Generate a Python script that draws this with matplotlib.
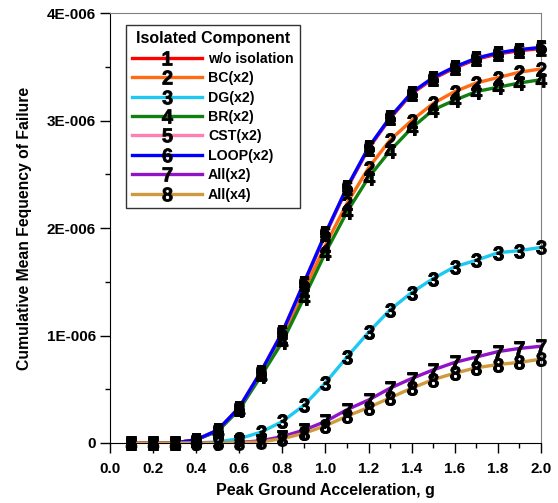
import matplotlib
matplotlib.use("Agg")
import matplotlib.pyplot as plt
from matplotlib.ticker import MultipleLocator, FuncFormatter

plt.rcParams['font.family'] = ['Liberation Sans', 'DejaVu Sans']
plt.rcParams['mathtext.fontset'] = 'custom'
plt.rcParams['mathtext.rm'] = 'Liberation Sans'
plt.rcParams['mathtext.bf'] = 'Liberation Sans:bold'

pga = [0.1, 0.2, 0.3, 0.4, 0.5, 0.6, 0.7, 0.8, 0.9, 1.0,
       1.1, 1.2, 1.3, 1.4, 1.5, 1.6, 1.7, 1.8, 1.9, 2.0]

# values in units of 1E-006
loop = [0.0, 0.0, 0.0, 0.03, 0.12, 0.33, 0.66, 1.03, 1.49, 1.95,
        2.38, 2.75, 3.03, 3.26, 3.40, 3.50, 3.58, 3.63, 3.66, 3.68]
wo_iso = [0.0, 0.0, 0.0, 0.03, 0.12, 0.33, 0.66, 1.03, 1.48, 1.94,
          2.37, 2.74, 3.02, 3.25, 3.39, 3.49, 3.57, 3.62, 3.65, 3.67]
bc = [0.0, 0.0, 0.0, 0.03, 0.11, 0.32, 0.64, 0.99, 1.42, 1.84,
      2.23, 2.56, 2.82, 3.00, 3.16, 3.27, 3.35, 3.40, 3.45, 3.48]
dg = [0.0, 0.0, 0.0, 0.0, 0.01, 0.04, 0.10, 0.20, 0.35, 0.56,
      0.80, 1.03, 1.24, 1.40, 1.53, 1.64, 1.70, 1.77, 1.79, 1.82]
br = [0.0, 0.0, 0.0, 0.03, 0.11, 0.31, 0.62, 0.94, 1.35, 1.77,
      2.15, 2.47, 2.72, 2.93, 3.10, 3.19, 3.27, 3.31, 3.35, 3.38]
cst = [0.0, 0.0, 0.0, 0.03, 0.12, 0.33, 0.66, 1.03, 1.49, 1.95,
       2.38, 2.75, 3.03, 3.26, 3.40, 3.50, 3.58, 3.63, 3.66, 3.68]
all2 = [0.0, 0.0, 0.0, 0.0, 0.0, 0.005, 0.02, 0.06, 0.12, 0.20,
        0.31, 0.40, 0.51, 0.60, 0.68, 0.75, 0.80, 0.85, 0.88, 0.90]
all4 = [0.0, 0.0, 0.0, 0.0, 0.0, 0.004, 0.01, 0.04, 0.09, 0.16,
        0.25, 0.33, 0.42, 0.51, 0.59, 0.65, 0.70, 0.73, 0.75, 0.78]

series = [wo_iso, bc, dg, br, cst, loop, all2, all4]
labels = ['w/o isolation', 'BC(x2)', 'DG(x2)', 'BR(x2)', 'CST(x2)',
          'LOOP(x2)', 'All(x2)', 'All(x4)']
colors = ['#ff0000', '#ff6a13', '#1ec8f0', '#118011', '#ff7fb0',
          '#0000ff', '#9013c8', '#cf9a3e']

fig = plt.figure(figsize=(5.58, 5.03), dpi=100)
ax = fig.add_axes([0.197, 0.1193, 0.7725, 0.8547])

mk = dict(markersize=10, markerfacecolor='black', markeredgecolor='black',
          markeredgewidth=0.6)
for i, (vals, lab, c) in enumerate(zip(series, labels, colors)):
    y = [v * 1e-6 for v in vals]
    m = r'$\mathbf{%d}$' % (i + 1)
    ax.plot(pga, y, color=c, lw=2.4, marker=m, label=lab, zorder=2 + i, **mk)
    ax.plot(pga, y, linestyle='none', marker=m, zorder=20 + i,
            clip_on=False, **mk)

ax.set_xlim(0, 2.0)
ax.set_ylim(0, 4e-6)
ax.xaxis.set_major_locator(MultipleLocator(0.2))
ax.xaxis.set_minor_locator(MultipleLocator(0.1))
ax.yaxis.set_major_locator(MultipleLocator(1e-6))
ax.yaxis.set_minor_locator(MultipleLocator(0.5e-6))
ax.xaxis.set_major_formatter(FuncFormatter(lambda v, p: '%.1f' % v))


def yfmt(v, p):
    if abs(v) < 1e-12:
        return '0'
    return '%dE-006' % round(v * 1e6)


ax.yaxis.set_major_formatter(FuncFormatter(yfmt))
ax.tick_params(axis='both', which='major', direction='out', length=7,
               width=1, labelsize=11, pad=3)
ax.tick_params(axis='x', which='major', pad=7)
ax.tick_params(axis='both', which='minor', direction='out', length=3.6, width=1)
for t in ax.get_xticklabels() + ax.get_yticklabels():
    t.set_fontweight('bold')

ax.spines['top'].set_color('#808080')
ax.spines['right'].set_color('#808080')
ax.spines['left'].set_color('black')
ax.spines['bottom'].set_color('black')

ax.set_xlabel('Peak Ground Acceleration, g', fontsize=11.5, fontweight='bold',
              labelpad=5)
ax.set_ylabel('Cumulative Mean Fequency of Failure', fontsize=11.3,
              fontweight='bold', labelpad=11)

leg = ax.legend(loc='upper left', bbox_to_anchor=(0.037, 0.972),
                title='Isolated Component', frameon=True, fancybox=False,
                edgecolor='black', prop={'weight': 'bold', 'size': 10.2},
                handlelength=4.9, labelspacing=0.38, borderpad=0.45,
                handletextpad=0.45, borderaxespad=0, markerscale=1.0)
leg.get_title().set_fontweight('bold')
leg.get_title().set_fontsize(11.5)
leg.get_frame().set_linewidth(1.0)
leg.set_zorder(40)

fig.savefig('out.png', dpi=100)
